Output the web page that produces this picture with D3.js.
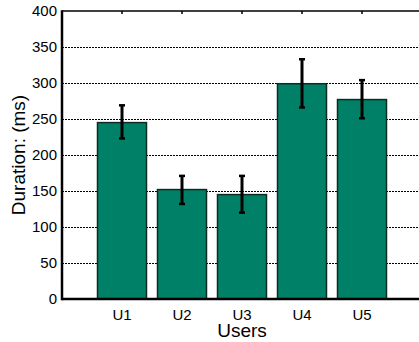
<!DOCTYPE html>
<html>
<head>
<meta charset="utf-8">
<script src="https://cdn.jsdelivr.net/npm/d3@7"></script>
<style>
  body { margin: 0; background: #fff; }
  text { font-family: "Liberation Sans", Arial, sans-serif; fill: #000; }
</style>
</head>
<body>
<svg id="chart" width="419" height="342"></svg>
<script>
const users = ["U1", "U2", "U3", "U4", "U5"];
const durations = [245, 152, 145, 299, 277];
const errLow = [223, 132, 120, 266, 251];
const errHigh = [269, 171, 171, 333, 304];
const yTicks = [0, 50, 100, 150, 200, 250, 300, 350, 400];

const svg = d3.select("#chart");
const margin = { top: 11, left: 62, bottom: 43 };
const height = +svg.attr("height");
const plotBottom = height - margin.bottom;

const x = d3.scaleLinear().domain([0, 6]).range([margin.left, 422]);
const y = d3.scaleLinear().domain([0, 400]).range([plotBottom, margin.top]);
const barW = 49;

const data = users.map((u, i) => ({
  user: u, i: i + 1, value: durations[i], lo: errLow[i], hi: errHigh[i]
}));

// dotted grid
svg.append("g")
  .selectAll("line")
  .data(yTicks.filter(t => t > 0 && t < 400))
  .enter().append("line")
  .attr("x1", x(0)).attr("x2", x(6))
  .attr("y1", d => y(d) + 0.5).attr("y2", d => y(d) + 0.5)
  .attr("stroke", "#000")
  .attr("stroke-width", 1)
  .attr("stroke-dasharray", "2,1");

// bars
svg.append("g")
  .selectAll("rect")
  .data(data)
  .enter().append("rect")
  .attr("x", d => x(d.i) - barW / 2)
  .attr("y", d => y(d.value))
  .attr("width", barW)
  .attr("height", d => y(0) - y(d.value))
  .attr("fill", "#008066")
  .attr("stroke", "#0d2b22")
  .attr("stroke-width", 1.5);

// error bars
const eb = svg.append("g").attr("stroke", "#000");
eb.selectAll("line.v")
  .data(data).enter().append("line")
  .attr("class", "v")
  .attr("x1", d => x(d.i)).attr("x2", d => x(d.i))
  .attr("y1", d => y(d.hi)).attr("y2", d => y(d.lo))
  .attr("stroke-width", 3);
["hi", "lo"].forEach(k => {
  eb.selectAll("line.c" + k)
    .data(data).enter().append("line")
    .attr("class", "c" + k)
    .attr("x1", d => x(d.i) - 3).attr("x2", d => x(d.i) + 3)
    .attr("y1", d => y(d[k])).attr("y2", d => y(d[k]))
    .attr("stroke-width", 2.5);
});

// axes frame
svg.append("line")
  .attr("x1", x(0)).attr("x2", x(6))
  .attr("y1", y(0)).attr("y2", y(0))
  .attr("stroke", "#000").attr("stroke-width", 2.5);
svg.append("line")
  .attr("x1", x(0)).attr("x2", x(6))
  .attr("y1", y(400)).attr("y2", y(400))
  .attr("stroke", "#000").attr("stroke-width", 1.5);
svg.append("line")
  .attr("x1", x(0)).attr("x2", x(0))
  .attr("y1", y(400) - 0.75).attr("y2", y(0) + 1.25)
  .attr("stroke", "#000").attr("stroke-width", 2.5);

// small top ticks at bar centres
svg.append("g")
  .selectAll("line")
  .data(data).enter().append("line")
  .attr("x1", d => x(d.i)).attr("x2", d => x(d.i))
  .attr("y1", y(400)).attr("y2", y(400) + 3)
  .attr("stroke", "#000").attr("stroke-width", 1.5);

// y tick labels
svg.append("g")
  .selectAll("text")
  .data(yTicks).enter().append("text")
  .attr("x", x(0) - 5)
  .attr("y", d => y(d) + 5)
  .attr("text-anchor", "end")
  .style("font-size", "15px")
  .text(d => d);

// x tick labels
svg.append("g")
  .selectAll("text")
  .data(data).enter().append("text")
  .attr("x", d => x(d.i))
  .attr("y", 320)
  .attr("text-anchor", "middle")
  .style("font-size", "15px")
  .text(d => d.user);

// axis titles
svg.append("text")
  .attr("x", x(3))
  .attr("y", 336.5)
  .attr("text-anchor", "middle")
  .style("font-size", "19px")
  .text("Users");

svg.append("text")
  .attr("transform", `translate(24.5,${y(200)}) rotate(-90)`)
  .attr("text-anchor", "middle")
  .style("font-size", "19px")
  .text("Duration: (ms)");
</script>
</body>
</html>
